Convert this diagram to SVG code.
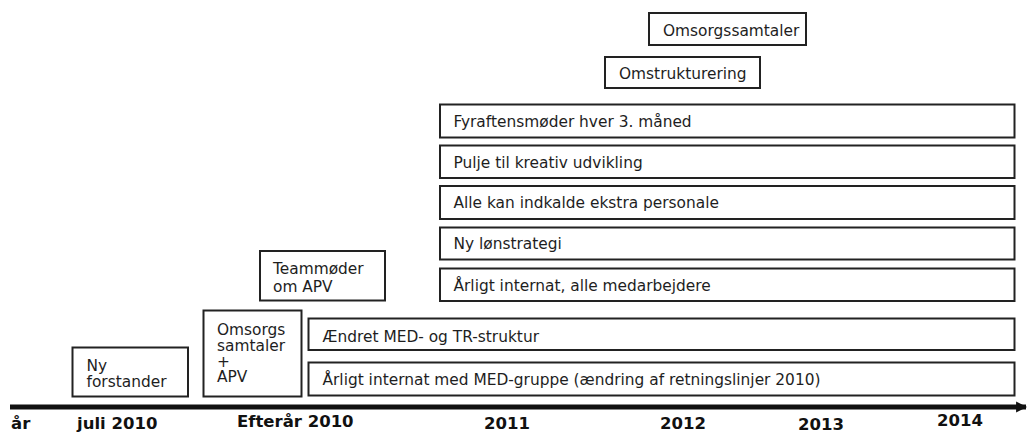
<svg xmlns="http://www.w3.org/2000/svg" width="1027" height="432" viewBox="0 0 1027 432">
<style>
rect.b{fill:#fff;stroke:#222;stroke-width:2}
text{font-family:"DejaVu Sans",Verdana,sans-serif;font-size:15.4px;fill:#1e1e1e}
text.ax{font-weight:bold;font-size:16.5px;fill:#111}
</style>
<defs>
<marker id="ah" viewBox="0 0 10 10" refX="9" refY="5" markerWidth="2.2" markerHeight="2.6" orient="auto" markerUnits="strokeWidth">
<path d="M0,0 L10,5 L0,10 z" fill="#111"/>
</marker>
</defs>
<rect width="1027" height="432" fill="#fff"/>
<g id="connectors">
<line x1="10" y1="407" x2="1026" y2="407" stroke="#111" stroke-width="5" marker-end="url(#ah)"/>
</g>
<g id="n-omsorgssamtaler"><rect class="b" x="649" y="13" width="157" height="32"/><text x="663" y="36">Omsorgssamtaler</text></g>
<g id="n-omstrukturering"><rect class="b" x="605" y="57" width="155" height="31"/><text x="619" y="79">Omstrukturering</text></g>
<g id="n-fyraftens"><rect class="b" x="440" y="104.5" width="574.5" height="33"/><text x="453.5" y="126.5">Fyraftensmøder hver 3. måned</text></g>
<g id="n-pulje"><rect class="b" x="440" y="145.5" width="574.5" height="32.5"/><text x="453.5" y="167.5">Pulje til kreativ udvikling</text></g>
<g id="n-alle"><rect class="b" x="440" y="186" width="574.5" height="33"/><text x="453.5" y="208">Alle kan indkalde ekstra personale</text></g>
<g id="n-lon"><rect class="b" x="440" y="227.5" width="574.5" height="32"/><text x="453.5" y="249">Ny lønstrategi</text></g>
<g id="n-internat-alle"><rect class="b" x="440" y="268.5" width="574.5" height="32.5"/><text x="453.5" y="290.5">Årligt internat, alle medarbejdere</text></g>
<g id="n-teammoder"><rect class="b" x="260" y="251" width="125" height="49.5"/><text x="273" y="274">Teammøder</text><text x="273" y="291.5">om APV</text></g>
<g id="n-aendret"><rect class="b" x="308.5" y="318.5" width="706" height="31.5"/><text x="322.5" y="341.5">Ændret MED- og TR-struktur</text></g>
<g id="n-internat-med"><rect class="b" x="308.5" y="362.5" width="706" height="33"/><text x="322.5" y="385">Årligt internat med MED-gruppe (ændring af retningslinjer 2010)</text></g>
<g id="n-omsorgs-apv"><rect class="b" x="203.5" y="310.5" width="98" height="86"/><text x="217" y="335">Omsorgs</text><text x="217" y="351">samtaler</text><text x="217" y="366.5">+</text><text x="217" y="382">APV</text></g>
<g id="n-forstander"><rect class="b" x="72.5" y="347.5" width="115.5" height="49"/><text x="86.5" y="370.5">Ny</text><text x="86.5" y="387">forstander</text></g>
<g id="axis-labels">
<text class="ax" x="11" y="429">år</text>
<text class="ax" x="77" y="429">juli 2010</text>
<text class="ax" x="237" y="427">Efterår 2010</text>
<text class="ax" x="484" y="429">2011</text>
<text class="ax" x="660" y="429">2012</text>
<text class="ax" x="798" y="430">2013</text>
<text class="ax" x="937" y="426">2014</text>
</g>
</svg>
